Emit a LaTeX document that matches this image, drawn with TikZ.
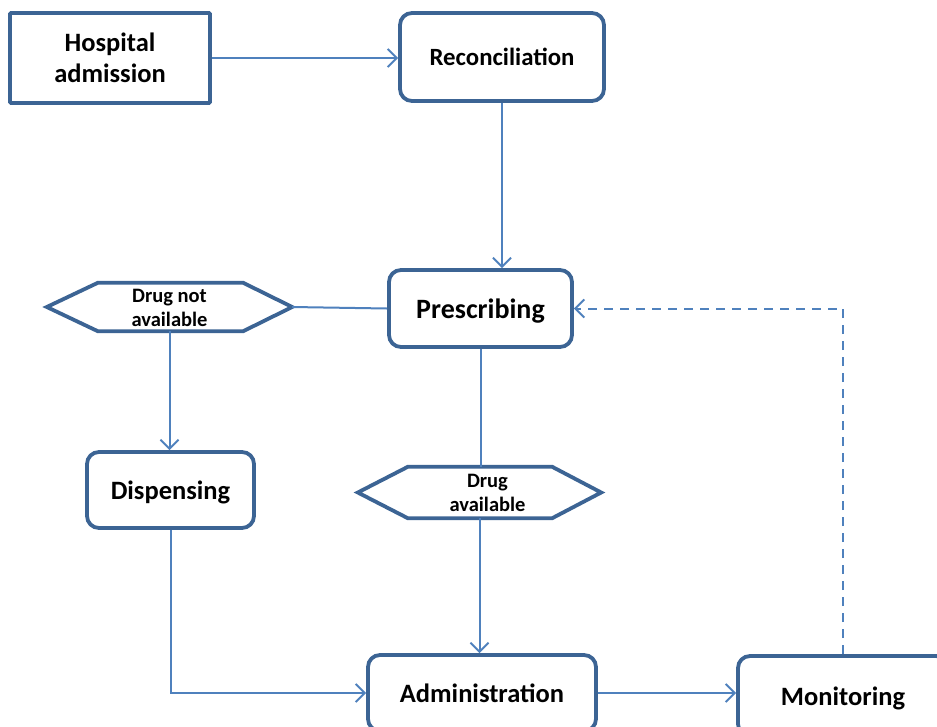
\documentclass[tikz,border=0pt]{standalone}
\usepackage{fontspec}
\setmainfont{Carlito}
\usetikzlibrary{arrows.meta,calc}
\definecolor{boxblue}{HTML}{3C6494}
\definecolor{linkblue}{HTML}{4F81BD}
\tikzset{
  stepbox/.style={draw=boxblue, line width=3.8pt, rounded corners=12pt, fill=white,
    align=center, font=\bfseries\fontsize{26.5}{31}\selectfont, inner sep=0pt, text depth=0pt},
  hexarea/.style={inner sep=0pt, align=center, font=\bfseries\fontsize{20.5}{24}\selectfont},
  hexline/.style={draw=boxblue, line width=3.8pt, line join=miter},
  link/.style={draw=linkblue, line width=2pt},
  arrowlink/.style={link, -{Straight Barb[length=9pt,width=18pt,line width=2pt]}},
}
\begin{document}
\begin{tikzpicture}[x=1pt,y=-1pt]
\clip (0,0) rectangle (937,726);
\fill[white] (0,0) rectangle (937,726);

% process steps
\node[stepbox, rounded corners=1pt, minimum width=200pt, minimum height=90pt, text depth=-4pt] (hosp) at (110,58) {Hospital\\admission};
\node[stepbox, minimum width=204pt, minimum height=88pt, font=\bfseries\fontsize{24.8}{30}\selectfont] (recon) at (502,57) {Reconciliation};
\node[stepbox, minimum width=183pt, minimum height=77pt, font=\bfseries\fontsize{28}{32}\selectfont] (presc) at (480.5,308.5) {Prescribing};
\node[stepbox, minimum width=167pt, minimum height=76pt] (disp) at (170.5,490) {Dispensing};
\node[stepbox, minimum width=228pt, minimum height=76pt] (admin) at (482,693) {Administration};
\node[stepbox, minimum width=210pt, minimum height=80pt] (mon) at (843,696) {Monitoring};

% decision hexagons
\node[hexarea, minimum width=245pt, minimum height=48pt] (dna) at (169.5,307) {};
\draw[hexline] (dna.west) -- ($(dna.north west)+(51,0)$) -- ($(dna.north east)+(-49,0)$) -- (dna.east)
  -- ($(dna.south east)+(-49,0)$) -- ($(dna.south west)+(51,0)$) -- cycle;
\node[hexarea] (dnatext) at ($(dna.center)+(0,1)$) {Drug not\\available};

\node[hexarea, minimum width=243pt, minimum height=51pt] (da) at (479.5,492.5) {};
\draw[hexline] (da.west) -- ($(da.north west)+(50,0)$) -- ($(da.north east)+(-49,0)$) -- (da.east)
  -- ($(da.south east)+(-49,0)$) -- ($(da.south west)+(50,0)$) -- cycle;
\node[hexarea] (datext) at ($(da.center)+(8,0.5)$) {Drug\\available};

% connectors
\draw[arrowlink] (hosp.east) -- (hosp.east -| recon.west);
\draw[arrowlink] (recon.south) -- (recon.south |- presc.north);
\draw[link] (presc.west) -- (dna.east);
\draw[arrowlink] (dna.south) -- (dna.south |- disp.north);
\draw[link] (presc.south) -- (presc.south |- da.north);
\draw[arrowlink] (da.south) -- (da.south |- admin.north);
\draw[arrowlink] (disp.south) |- (admin.west);
\draw[arrowlink] (admin.east) -- (admin.east -| mon.west);
\draw[arrowlink, dash pattern=on 9pt off 7pt] (mon.north) |- (presc.east);
\end{tikzpicture}
\end{document}
